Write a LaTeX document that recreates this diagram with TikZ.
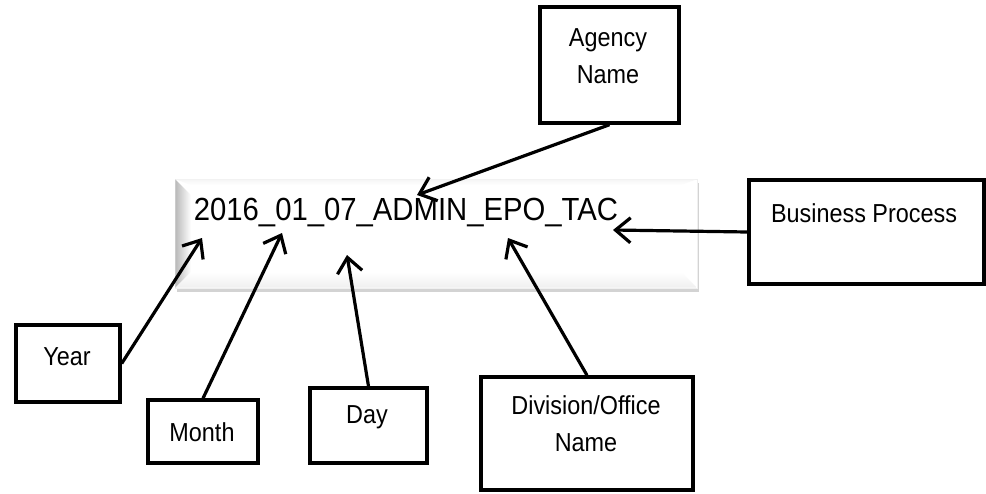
\documentclass[tikz,border=0pt]{standalone}
\usepackage{fontspec}
\setmainfont{Liberation Sans}
\usepackage{graphicx}
\usetikzlibrary{arrows.meta,shadows}
\newcommand\nar[1]{\scalebox{0.9}[1]{#1}}
\newcommand\narb[1]{\scalebox{0.915}[1]{#1}}
\begin{document}
\begin{tikzpicture}[x=1pt,y=-1pt,
  box/.style={draw=black,line width=3.4pt,fill=white,inner sep=0pt},
  lbl/.style={align=center,inner sep=0pt,font=\fontsize{26}{37}\selectfont},
  arr/.style={line width=3.2pt,-{Straight Barb[length=15pt,width=25pt]}},
  banner/.style={fill=white,draw=gray!12,line width=0.6pt,minimum width=522pt,minimum height=109pt,inner sep=0pt,
    drop shadow={shadow xshift=2pt,shadow yshift=-4pt,opacity=0.35,fill=gray}}]
\useasboundingbox (0,0) rectangle (986,493);
% banner
\node[banner] (banner) at (436,233.5) {};
\shade[left color=gray!55,right color=white] (175.3,179.3) -- (191,195) -- (191,272) -- (175.3,287.7) -- cycle;
\shade[top color=gray!8,bottom color=white] (175.3,179.3) -- (696.7,179.3) -- (681,185) -- (191,185) -- cycle;
\shade[top color=white,bottom color=gray!12] (191,272) -- (681,272) -- (696.7,287.7) -- (175.3,287.7) -- cycle;
\node[inner sep=0pt,font=\fontsize{32}{38}\selectfont] (code) at (406,213) {\narb{2016\_01\_07\_ADMIN\_EPO\_TAC}};
% target points on the banner
\coordinate (tYear) at (202,238);
\coordinate (tMonth) at (282,233);
\coordinate (tDay) at (347,255);
\coordinate (tAgency) at (417,195);
\coordinate (tDiv) at (508,238);
\coordinate (tBus) at (613,230);
% boxes
\node[box,minimum width=139pt,minimum height=116pt] (agency) at (609.5,65) {};
\node[lbl] (agencyT) at (608,56) {\nar{Agency}\\\nar{Name}};
\node[box,minimum width=235pt,minimum height=104pt] (business) at (866.5,232) {};
\node[lbl] (businessT) at (864,213) {\nar{Business Process}};
\node[box,minimum width=212pt,minimum height=113pt] (division) at (587,433.5) {};
\node[lbl] (divisionT) at (586,424) {\nar{Division/Office}\\\nar{Name}};
\node[box,minimum width=104pt,minimum height=77pt] (year) at (68,363.5) {};
\node[lbl] (yearT) at (67,357) {\nar{Year}};
\node[box,minimum width=110pt,minimum height=63pt] (month) at (203,431.5) {};
\node[lbl] (monthT) at (202,432) {\nar{Month}};
\node[box,minimum width=117pt,minimum height=75pt] (day) at (368.5,425.5) {};
\node[lbl] (dayT) at (367,417) {\nar{Day}};
% connectors
\draw[arr] (agency.south) -- (tAgency);
\draw[arr] (business.west) -- (tBus);
\draw[arr] (division.north) -- (tDiv);
\draw[arr] (year.east) -- (tYear);
\draw[arr] (month.north) -- (tMonth);
\draw[arr] (day.north) -- (tDay);
\end{tikzpicture}
\end{document}
